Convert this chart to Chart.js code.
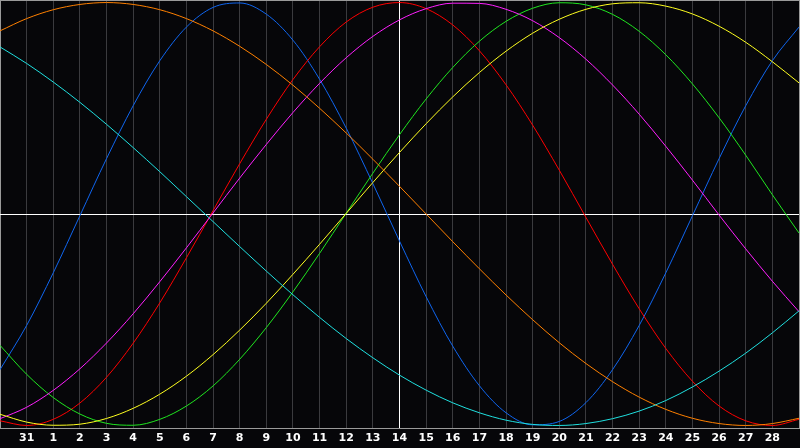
<!DOCTYPE html>
<html>
<head>
<meta charset="utf-8">
<title>Biorhythm</title>
<script src="https://cdn.jsdelivr.net/npm/chart.js@4/dist/chart.umd.min.js"></script>
<style>
  html, body { margin: 0; padding: 0; background: #060609; overflow: hidden; }
  #wrap { width: 800px; height: 448px; position: relative; }
</style>
</head>
<body>
<div id="wrap"><canvas id="bio"></canvas></div>
<script>
// Days shown: Jan 30 .. Mar 1 (first and last are not labelled)
var dayLabels = ['30', '31', '1', '2', '3', '4', '5', '6', '7', '8', '9', '10', '11', '12', '13', '14',
  '15', '16', '17', '18', '19', '20', '21', '22', '23', '24', '25', '26', '27', '28', '1'];
var todayIndex = 15;

// Cycle values per day (-1 .. 1)
var physical = [-0.736, -0.527, -0.278, -0.008, 0.262, 0.512, 0.725, 0.884, 0.977, 0.998, 0.945, 0.822, 0.637, 0.406, 0.144, -0.128,
  -0.391, -0.625, -0.812, -0.940, -0.997, -0.981, -0.892, -0.736, -0.527, -0.278, -0.008, 0.262, 0.512, 0.725, 0.884];
var emotional = [-0.978, -1.000, -0.971, -0.894, -0.772, -0.611, -0.420, -0.207, 0.016, 0.238, 0.448, 0.636, 0.791, 0.908, 0.978, 1.000,
  0.971, 0.894, 0.772, 0.611, 0.420, 0.207, -0.016, -0.238, -0.448, -0.636, -0.791, -0.908, -0.978, -1.000, -0.971];
var intellectual = [-0.621, -0.758, -0.868, -0.946, -0.990, -0.999, -0.971, -0.908, -0.813, -0.687, -0.537, -0.368, -0.186, 0.004, 0.193, 0.375,
  0.544, 0.693, 0.817, 0.911, 0.973, 0.999, 0.989, 0.944, 0.864, 0.753, 0.615, 0.455, 0.278, 0.091, -0.090];
var intuitive = [-0.968, -0.914, -0.834, -0.732, -0.610, -0.472, -0.320, -0.160, 0.005, 0.170, 0.329, 0.480, 0.618, 0.739, 0.840, 0.918,
  0.971, 0.997, 0.996, 0.968, 0.914, 0.834, 0.732, 0.610, 0.472, 0.320, 0.160, -0.005, -0.165, -0.318, -0.462];
var aesthetic = [-0.947, -0.984, -0.999, -0.994, -0.967, -0.919, -0.852, -0.767, -0.665, -0.549, -0.422, -0.285, -0.143, 0.003, 0.149, 0.291,
  0.427, 0.554, 0.669, 0.770, 0.855, 0.921, 0.968, 0.994, 0.999, 0.983, 0.946, 0.888, 0.812, 0.720, 0.620];
var awareness = [0.866, 0.924, 0.966, 0.991, 1.000, 0.991, 0.966, 0.924, 0.866, 0.793, 0.707, 0.609, 0.500, 0.383, 0.259, 0.131,
  0.000, -0.131, -0.259, -0.383, -0.500, -0.609, -0.707, -0.793, -0.866, -0.924, -0.966, -0.991, -1.000, -0.991, -0.966];
var spiritual = [0.790, 0.712, 0.624, 0.528, 0.424, 0.314, 0.200, 0.082, -0.036, -0.154, -0.270, -0.382, -0.489, -0.589, -0.680, -0.762,
  -0.833, -0.893, -0.940, -0.975, -0.995, -1.000, -0.991, -0.968, -0.932, -0.882, -0.818, -0.743, -0.658, -0.562, -0.458];

(function() {
  'use strict';

  var yLimit = 1.012;
  var borderGray = '#9a9a9a';
  var gridGray = '#3a3a3e';

  function series(label, data, color) {
    return {
      label: label,
      data: data,
      borderColor: color,
      borderWidth: 1,
      pointRadius: 0,
      cubicInterpolationMode: 'monotone',
      fill: false
    };
  }

  var ctx = document.getElementById('bio').getContext('2d');
  new Chart(ctx, {
    type: 'line',
    data: {
      labels: dayLabels,
      datasets: [
        series('Spiritual', spiritual, '#20e0e0'),
        series('Awareness', awareness, '#ff8000'),
        series('Aesthetic', aesthetic, '#ffff20'),
        series('Intuitive', intuitive, '#ff20ff'),
        series('Intellectual', intellectual, '#20e620'),
        series('Emotional', emotional, '#ff0000'),
        series('Physical', physical, '#1066f0')
      ]
    },
    options: {
      responsive: true,
      maintainAspectRatio: false,
      animation: false,
      devicePixelRatio: 1,
      layout: { padding: { left: 0, right: 1, top: 0, bottom: 0 } },
      plugins: {
        legend: { display: false },
        tooltip: { enabled: false }
      },
      scales: {
        x: {
          offset: false,
          afterFit: function(scale) { scale.height = 20; },
          border: { display: true, color: borderGray, width: 1 },
          grid: {
            drawTicks: true,
            tickLength: 4,
            tickColor: 'transparent',
            lineWidth: 1,
            color: function(c) {
              if (c.index === todayIndex) return '#ffffff';
              if (c.index === 0 || c.index === dayLabels.length - 1) return borderGray;
              return gridGray;
            }
          },
          ticks: {
            autoSkip: false,
            maxRotation: 0,
            padding: 0,
            color: '#ffffff',
            font: { family: 'DejaVu Sans', size: 11, weight: 'bold' },
            callback: function(val, i) {
              if (i === 0 || i === dayLabels.length - 1) return '';
              return dayLabels[i];
            }
          }
        },
        y: {
          min: -yLimit,
          max: yLimit,
          afterFit: function(scale) { scale.width = 0; },
          afterBuildTicks: function(scale) {
            scale.ticks = [{ value: -yLimit }, { value: 0 }, { value: yLimit }];
          },
          border: { display: false },
          grid: {
            drawTicks: false,
            lineWidth: 1,
            color: function(c) {
              return c.tick && c.tick.value === 0 ? '#ffffff' : borderGray;
            }
          },
          ticks: { display: false }
        }
      }
    }
  });
})();
</script>
</body>
</html>
